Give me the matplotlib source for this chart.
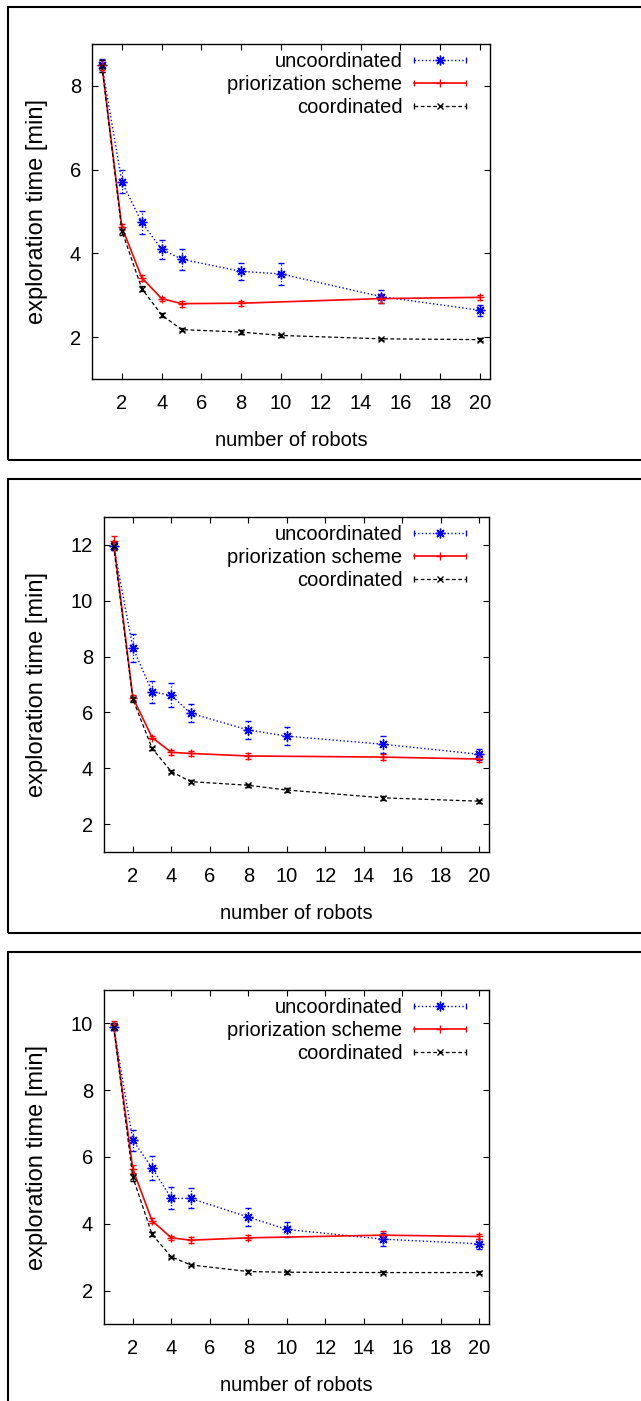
import matplotlib
matplotlib.use("Agg")
import matplotlib.pyplot as plt
from matplotlib.patches import Rectangle
from matplotlib.lines import Line2D
from matplotlib.legend_handler import HandlerLine2D, HandlerTuple

plt.rcParams['font.family'] = ['Liberation Sans', 'DejaVu Sans']

# robot counts
x_all = [1, 2, 3, 4, 5, 8, 10, 15, 20]
x_prio = [1, 2, 3, 4, 5, 8, 15, 20]

# panel 1
unc1 = [8.49, 5.71, 4.74, 4.10, 3.86, 3.57, 3.51, 2.97, 2.64]
unc1_err = [0.16, 0.28, 0.28, 0.23, 0.25, 0.21, 0.26, 0.16, 0.13]
pri1 = [8.50, 4.63, 3.42, 2.92, 2.80, 2.81, 2.92, 2.95]
pri1_err = [0.12, 0.08, 0.07, 0.05, 0.07, 0.06, 0.10, 0.06]
coo1 = [8.47, 4.54, 3.16, 2.53, 2.18, 2.12, 2.04, 1.96, 1.94]
coo1_err = [0.15, 0.10, 0.06, 0.04, 0.04, 0.04, 0.03, 0.03, 0.03]

# panel 2
unc2 = [11.96, 8.32, 6.74, 6.61, 5.97, 5.37, 5.15, 4.86, 4.50]
unc2_err = [0.15, 0.50, 0.40, 0.43, 0.32, 0.33, 0.32, 0.30, 0.20]
pri2 = [12.14, 6.53, 5.10, 4.57, 4.53, 4.44, 4.40, 4.33]
pri2_err = [0.18, 0.08, 0.06, 0.08, 0.10, 0.12, 0.10, 0.10]
coo2 = [11.96, 6.47, 4.71, 3.88, 3.52, 3.39, 3.22, 2.94, 2.82]
coo2_err = [0.15, 0.10, 0.05, 0.05, 0.05, 0.06, 0.06, 0.06, 0.06]

# panel 3
unc3 = [9.90, 6.50, 5.67, 4.76, 4.76, 4.20, 3.83, 3.54, 3.40]
unc3_err = [0.10, 0.32, 0.36, 0.33, 0.30, 0.27, 0.22, 0.19, 0.15]
pri3 = [9.95, 5.63, 4.09, 3.58, 3.51, 3.58, 3.66, 3.62]
pri3_err = [0.12, 0.12, 0.07, 0.06, 0.08, 0.08, 0.12, 0.07]
coo3 = [9.90, 5.39, 3.68, 3.01, 2.77, 2.57, 2.55, 2.54, 2.54]
coo3_err = [0.10, 0.10, 0.06, 0.04, 0.04, 0.04, 0.04, 0.04, 0.04]

labels = ['uncoordinated', 'priorization scheme', 'coordinated']

panels = [
    (unc1, unc1_err, pri1, pri1_err, coo1, coo1_err, 9, [2, 4, 6, 8]),
    (unc2, unc2_err, pri2, pri2_err, coo2, coo2_err, 13, [2, 4, 6, 8, 10, 12]),
    (unc3, unc3_err, pri3, pri3_err, coo3, coo3_err, 11, [2, 4, 6, 8, 10]),
]

W, H = 641, 1401
fig = plt.figure(figsize=(W / 100, H / 100), dpi=100)

# axes boxes in pixels: left, top, right, bottom
boxes = [(92, 44, 490, 379), (104, 517, 489, 852), (104, 990, 489, 1324)]
# outer frames in pixels: top, bottom
frames = [(7, 460), (479, 933), (952, 1450)]

styles = [
    dict(color='#0000ff', ls=':', lw=1.0, marker=(8, 2, 0), ms=7),
    dict(color='#ff0000', ls='-', lw=1.2, marker='+', ms=6),
    dict(color='black', ls=(0, (3, 2)), lw=0.9, marker='x', ms=5),
]

fs = 14.5
for (unc, unc_e, pri, pri_e, coo, coo_e, ytop, yt), box, fr in zip(panels, boxes, frames):
    l, t, r, b = box
    ax = fig.add_axes([l / W, 1 - b / H, (r - l) / W, (b - t) / H])

    series = [(x_all, unc, unc_e), (x_prio, pri, pri_e), (x_all, coo, coo_e)]
    handles = []
    hmap = {}
    for (xs, ys, es), st in zip(series, styles):
        eb = ax.errorbar(xs, ys, yerr=es, color=st['color'], ls=st['ls'],
                         lw=st['lw'], marker=st['marker'], ms=st['ms'], mew=1.0,
                         capsize=2.5, elinewidth=0.9)
        if st['ls'] == ':':
            eb[2][0].set_linestyle(':')
        main = Line2D([], [], color=st['color'], ls=st['ls'], lw=st['lw'],
                      marker=st['marker'], ms=st['ms'], mew=1.0)
        caps = Line2D([], [], color=st['color'], ls='none', marker='|',
                      ms=5, mew=1.0)
        hmap[main] = HandlerLine2D(numpoints=1)
        hmap[caps] = HandlerLine2D(numpoints=2, marker_pad=0)
        handles.append((main, caps))
    hmap[tuple] = HandlerTuple(ndivide=1, pad=0)

    ax.set_xlim(0.5, 20.5)
    ax.set_ylim(1, ytop)
    ax.set_xticks([2, 4, 6, 8, 10, 12, 14, 16, 18, 20])
    ax.set_yticks(yt)
    ax.tick_params(direction='in', length=4.5, width=0.8, top=True, right=True,
                   labelsize=fs)
    ax.tick_params(axis='x', pad=11)
    ax.tick_params(axis='y', pad=8)
    for s in ax.spines.values():
        s.set_linewidth(1.0)

    ax.set_xlabel('number of robots', fontsize=fs, va='center')
    ax.xaxis.set_label_coords(0.5, -61.5 / (b - t))
    ax.set_ylabel('exploration time [min]', fontsize=17, va='center')
    ax.yaxis.set_label_coords((37 - l) / (r - l), 0.5)

    ax.legend(handles, labels, handler_map=hmap, loc='upper right',
              bbox_to_anchor=((474 - l) / (r - l), 1.0),
              borderaxespad=0, frameon=False, markerfirst=False, fontsize=fs,
              handlelength=2.6, handletextpad=0.55, labelspacing=0.2)

    ft, fb = fr
    fig.add_artist(Rectangle((8 / W, 1 - fb / H), 1.2, (fb - ft) / H,
                             transform=fig.transFigure, fill=False,
                             edgecolor='black', lw=1.5))

fig.savefig('out.png', dpi=100)
